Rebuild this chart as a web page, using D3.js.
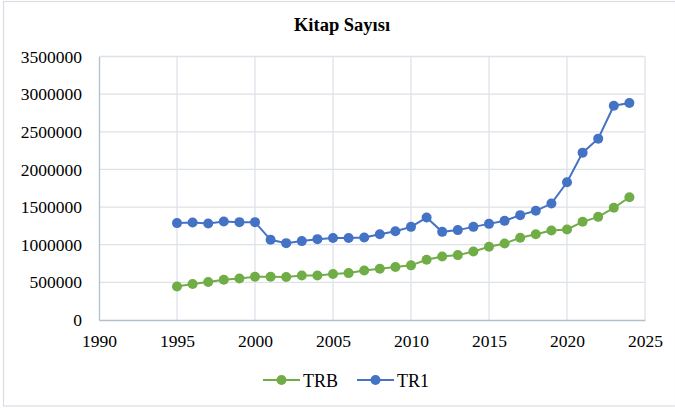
<!DOCTYPE html>
<html><head><meta charset="utf-8">
<script src="https://cdn.jsdelivr.net/npm/d3@7"></script>
<style>html,body{margin:0;padding:0;background:#fff;}svg{display:block;}
svg text{font-family:"Liberation Serif","Times New Roman",Times,"DejaVu Serif",serif !important;}</style>
</head><body>
<svg id="c" width="675" height="411"></svg>
<script>
const years = [1995,1996,1997,1998,1999,2000,2001,2002,2003,2004,2005,2006,2007,2008,2009,2010,2011,2012,2013,2014,2015,2016,2017,2018,2019,2020,2021,2022,2023,2024];
const trb = [446000,477000,504000,535000,552000,574000,574000,570000,592000,592000,610000,623000,658000,680000,703000,726000,800000,844000,862000,910000,972000,1016000,1092000,1140000,1189000,1202000,1304000,1370000,1490000,1631000];
const tr1 = [1287000,1295000,1281000,1308000,1300000,1300000,1065000,1021000,1048000,1074000,1088000,1088000,1096000,1140000,1180000,1237000,1361000,1171000,1194000,1237000,1277000,1317000,1393000,1450000,1547000,1830000,2223000,2409000,2846000,2882000];
const xTicks = [1990,1995,2000,2005,2010,2015,2020,2025];
const yTicks = [0,500000,1000000,1500000,2000000,2500000,3000000,3500000];
const seriesNames = ["TRB","TR1"];
const seriesColors = ["#70AD47","#4472C4"];
const title = "Kitap Sayısı";

const svg = d3.select("#c");
// chart frame
svg.append("rect").attr("x",3.5).attr("y",1.5).attr("width",672).attr("height",404.5)
  .attr("fill","#fff").attr("stroke","#d9dee5").attr("stroke-width",1.2);

const L=99, R=645, T=56.5, B=320;
const x = d3.scaleLinear().domain([1990,2025]).range([L,R]);
const y = d3.scaleLinear().domain([0,3500000]).range([B,T]);

// gridlines
const g = svg.append("g");
g.selectAll(".hg").data(yTicks.filter(d=>d>0)).join("line")
  .attr("x1",L).attr("x2",R).attr("y1",d=>y(d)).attr("y2",d=>y(d))
  .attr("stroke","#dde2e9").attr("stroke-width",1.3);
g.selectAll(".vg").data(xTicks.filter(d=>d>1990)).join("line")
  .attr("x1",d=>x(d)).attr("x2",d=>x(d)).attr("y1",T).attr("y2",B)
  .attr("stroke","#dde2e9").attr("stroke-width",1.3);

// axes
const xAxis = d3.axisBottom(x).tickValues(xTicks).tickFormat(d3.format("d")).tickSize(0).tickPadding(11);
const yAxis = d3.axisLeft(y).tickValues(yTicks).tickFormat(d3.format("d")).tickSize(0).tickPadding(17);
const gx = svg.append("g").attr("transform",`translate(0,${B})`).call(xAxis);
const gy = svg.append("g").attr("transform",`translate(${L},0)`).call(yAxis);
[gx,gy].forEach(a=>{
  a.attr("font-family",null).attr("font-size",null);
  a.select(".domain").attr("stroke","#b4bfcc").attr("stroke-width",1.3);
  a.selectAll("text").attr("font-size",17.5).attr("fill","#000");
});
gx.selectAll("text").attr("dy","0.9em");

// series
const line = d3.line().x((d,i)=>x(years[i])).y(d=>y(d));
[trb,tr1].forEach((vals,k)=>{
  svg.append("path").datum(vals).attr("d",line).attr("fill","none")
    .attr("stroke",seriesColors[k]).attr("stroke-width",2);
  svg.append("g").selectAll("circle").data(vals).join("circle")
    .attr("cx",(d,i)=>x(years[i])).attr("cy",d=>y(d)).attr("r",5)
    .attr("fill",seriesColors[k]);
});

// title
svg.append("text").attr("x",342).attr("y",31).attr("text-anchor","middle")
  .attr("font-weight","bold").attr("font-size",18.5).attr("fill","#000").text(title);

// legend
const legX = [263, 357];
seriesNames.forEach((n,k)=>{
  const lg = svg.append("g").attr("transform",`translate(${legX[k]},380)`);
  lg.append("line").attr("x1",0).attr("x2",37).attr("stroke",seriesColors[k]).attr("stroke-width",2);
  lg.append("circle").attr("cx",18.5).attr("r",5).attr("fill",seriesColors[k]);
  lg.append("text").attr("x",40).attr("y",6.5).attr("font-size",18).attr("fill","#000").text(n);
});
</script>
</body></html>
